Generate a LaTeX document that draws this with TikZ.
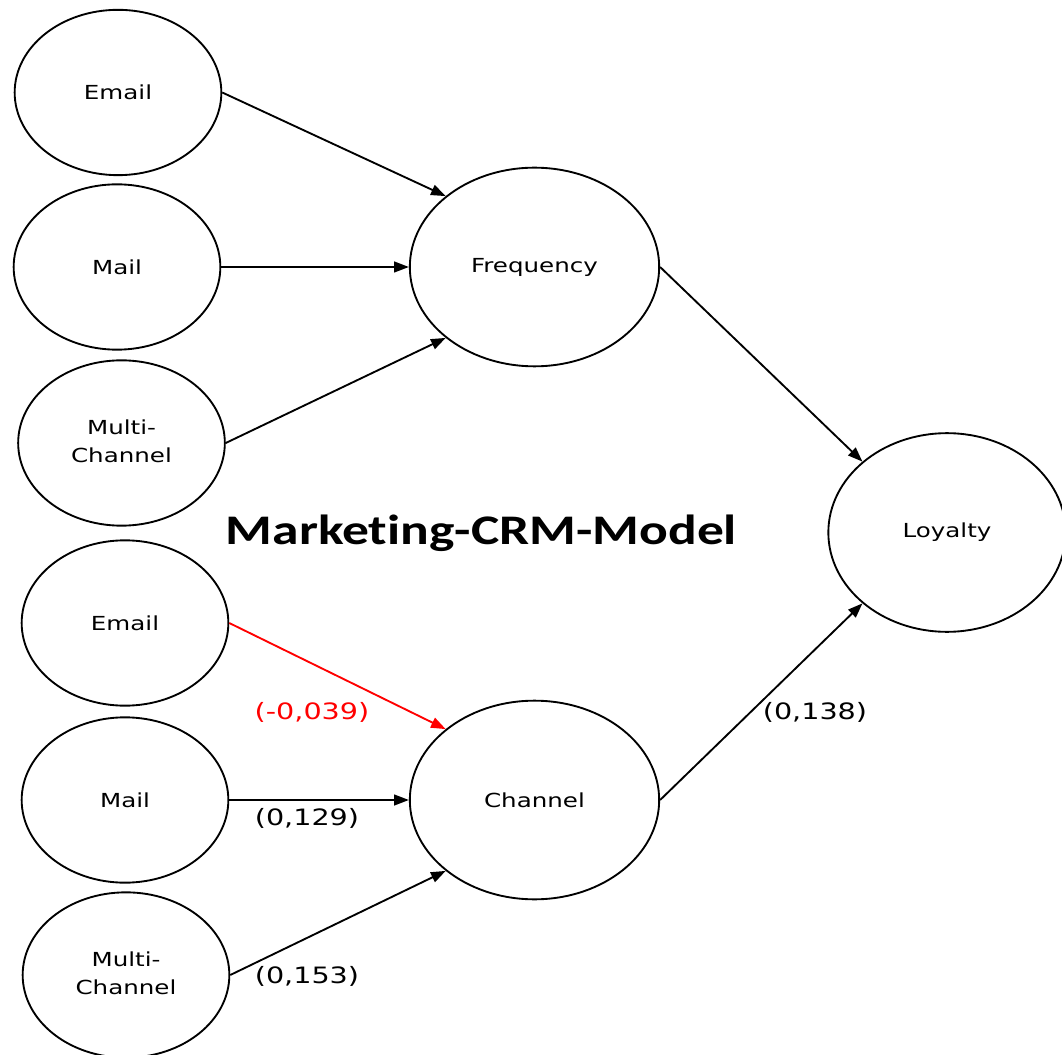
\documentclass[tikz,border=0pt]{standalone}
\usepackage{fontspec}
\usepackage{tikz}
\usetikzlibrary{arrows.meta,shapes.geometric}
\newfontfamily\dejavu{DejaVu Sans}
\newfontfamily\carlito[Ligatures=NoCommon]{Carlito}
% all texts are set a little wide
\newcommand{\wide}[1]{\scalebox{1.27}[1]{#1}}
\newcommand{\twolines}[2]{\wide{\begin{tabular}{@{}c@{}}#1\\#2\end{tabular}}}

\begin{document}
\begin{tikzpicture}[x=0.75pt,y=0.75pt,
  factor/.style={draw,ellipse,line width=1.4pt,inner sep=0pt,minimum width=155pt,minimum height=124pt,font=\dejavu\fontsize{14.5}{21}\selectfont},
  construct/.style={factor,minimum width=187pt,minimum height=149pt},
  link/.style={-{Triangle[length=11pt,width=8pt]},line width=1.4pt},
  coef/.style={font=\dejavu\fontsize{16.9}{20}\selectfont,inner sep=0pt}]
  \useasboundingbox (0,0) rectangle (1062,1054);
  % upper block: channels -> frequency
  \node[factor] (email1) at (118,961.5) {\wide{Email}};
  \node[factor] (mail1) at (117,787) {\wide{Mail}};
  \node[factor] (multi1) at (121.5,611) {\twolines{Multi-}{Channel}};
  \node[construct] (freq) at (534.5,787) {\wide{Frequency}};
  % lower block: channels -> channel
  \node[factor] (email2) at (125,431) {\wide{Email}};
  \node[factor] (mail2) at (125,254) {\wide{Mail}};
  \node[factor] (multi2) at (126,79) {\twolines{Multi-}{Channel}};
  \node[construct] (chan) at (534.5,254) {\wide{Channel}};
  \node[construct,minimum width=178pt] (loyal) at (947,521.5) {\wide{Loyalty}};
  \node[font=\carlito\bfseries\fontsize{31.6}{38}\selectfont,anchor=base] (title) at (481.5,510) {\wide{Marketing-CRM-Model}};

  \draw[link] (email1.east) -- (freq.north west);
  \draw[link] (mail1.east) -- (freq.west);
  \draw[link] (multi1.east) -- (freq.south west);
  \draw[link] (freq.east) -- (loyal.north west);
  \draw[link,red] (email2.east) -- (chan.north west);
  \draw[link] (mail2.east) -- (chan.west);
  \draw[link] (multi2.east) -- (chan.south west);
  \draw[link] (chan.east) -- (loyal.south west);

  % path coefficients
  \node[coef,text=red] (cemail) at (312,342) {\wide{(-0,039)}};
  \node[coef] (cmail) at (307,236) {\wide{(0,129)}};
  \node[coef] (cmulti) at (307,78) {\wide{(0,153)}};
  \node[coef] (cchan) at (815,342) {\wide{(0,138)}};
\end{tikzpicture}
\end{document}
